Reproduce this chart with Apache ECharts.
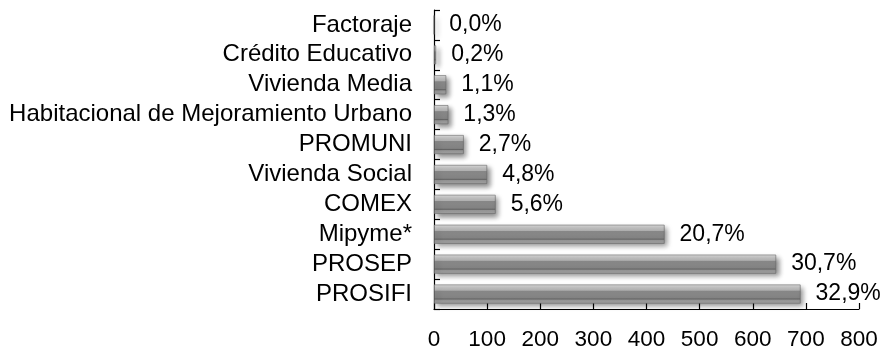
<!DOCTYPE html>
<html>
<head>
<meta charset="utf-8">
<script src="https://cdn.jsdelivr.net/npm/echarts@6/dist/echarts.min.js"></script>
<style>
html,body{margin:0;padding:0;background:#fff;}
#c{width:887px;height:351px;}
</style>
</head>
<body>
<div id="c"></div>
<script>
var categories = ["Factoraje","Crédito Educativo","Vivienda Media","Habitacional de Mejoramiento Urbano","PROMUNI","Vivienda Social","COMEX","Mipyme*","PROSEP","PROSIFI"];
var values = [0, 4, 23, 27, 56, 100, 116, 434, 644, 690];
var shareLabels = ["0,0%","0,2%","1,1%","1,3%","2,7%","4,8%","5,6%","20,7%","30,7%","32,9%"];
var xTicks = [0,100,200,300,400,500,600,700,800];

var chart = echarts.init(document.getElementById('c'));
var font = '"Liberation Sans", Arial, sans-serif';
chart.setOption({
  animation: false,
  grid: {left: 434, right: 28, top: 10, bottom: 39, containLabel: false},
  xAxis: {
    type: 'value', min: xTicks[0], max: xTicks[xTicks.length-1], interval: 100,
    axisLine: {show: true, lineStyle: {color: '#000', width: 1.2}},
    axisTick: {show: true, inside: true, length: 6, lineStyle: {color: '#000', width: 1.2}},
    splitLine: {show: false},
    axisLabel: {color: '#000', fontSize: 22.5, fontFamily: font, margin: 19, hideOverlap: false}
  },
  yAxis: {
    type: 'category', data: categories, inverse: true,
    axisLine: {show: true, lineStyle: {color: '#000', width: 1.2}},
    axisTick: {show: true, inside: true, length: 6, interval: 0, lineStyle: {color: '#000', width: 1.2}},
    axisLabel: {color: '#000', fontSize: 24, fontFamily: font, margin: 22, interval: 0, hideOverlap: false}
  },
  series: [{
    type: 'bar',
    data: values,
    barWidth: 19,
    itemStyle: {
      color: new echarts.graphic.LinearGradient(0,0,0,1,[
        {offset:0, color:'#e0e0e0'},
        {offset:0.12, color:'#cacaca'},
        {offset:0.3, color:'#b6b6b6'},
        {offset:0.34, color:'#8a8a8a'},
        {offset:0.7, color:'#828282'},
        {offset:0.76, color:'#646464'},
        {offset:0.82, color:'#949494'},
        {offset:1, color:'#a2a2a2'}
      ]),
      borderColor: '#666', borderWidth: 0.6,
      shadowColor: 'rgba(0,0,0,0.45)', shadowBlur: 5, shadowOffsetX: 3, shadowOffsetY: 3
    },
    label: {
      show: true, position: 'right', distance: 15,
      color: '#000', fontSize: 23, fontFamily: font,
      formatter: function(p){ return shareLabels[p.dataIndex]; }
    }
  }]
});
</script>
</body>
</html>
